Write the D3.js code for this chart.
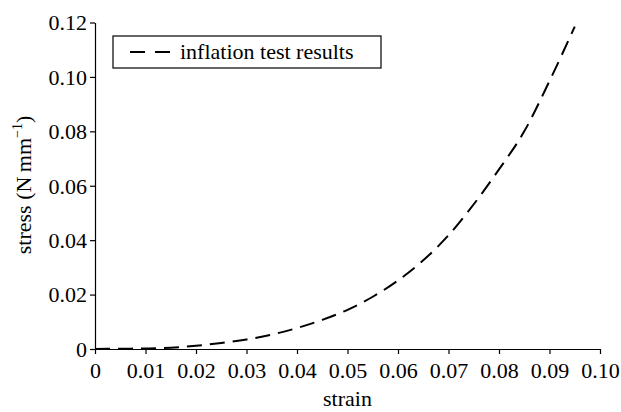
<!DOCTYPE html>
<html>
<head>
<meta charset="utf-8">
<script src="https://cdn.jsdelivr.net/npm/d3@7"></script>
<style>
  body { margin: 0; background: #fff; }
</style>
</head>
<body>
<div id="chart"></div>
<script>
// strain / stress values
const strain = [0, 0.005, 0.01, 0.015, 0.02, 0.025, 0.03, 0.035, 0.04, 0.045, 0.05,
  0.055, 0.06, 0.065, 0.07, 0.075, 0.08, 0.085, 0.09, 0.095];
const stress = [0, 0.0001, 0.0002, 0.0005, 0.0012, 0.0022, 0.0035, 0.0053, 0.0077, 0.0107, 0.0144,
  0.0192, 0.0252, 0.0326, 0.0418, 0.0532, 0.066, 0.080, 0.0985, 0.1185];
const xTicks = [0, 0.01, 0.02, 0.03, 0.04, 0.05, 0.06, 0.07, 0.08, 0.09, 0.10];
const yTicks = [0, 0.02, 0.04, 0.06, 0.08, 0.10, 0.12];
const seriesName = 'inflation test results';

const FONT = '"Liberation Serif", "Times New Roman", Times, serif';
const FS = 22;

function drawChart() {
  const w = 621;
  const h = 412;

  const svg = d3.select('#chart').append('svg').attr('width', w).attr('height', h)
    .attr('font-family', FONT);

  const x = d3.scaleLinear().domain([0, 0.1]).range([95, 600]);
  const y = d3.scaleLinear().domain([0, 0.12]).range([349, 22.5]);

  const fmt = (d) => (d === 0 ? '0' : d3.format('.2f')(d));

  const xAxis = svg.append('g')
    .attr('transform', `translate(0,${y(0)})`)
    .call(d3.axisBottom(x).tickValues(xTicks).tickFormat(fmt).tickSize(5).tickSizeOuter(0));
  xAxis.attr('font-family', FONT).attr('font-size', FS);
  xAxis.selectAll('text').attr('dy', 0).attr('y', 29).attr('fill', '#000');

  const yAxis = svg.append('g')
    .attr('transform', `translate(${x(0)},0)`)
    .call(d3.axisLeft(y).tickValues(yTicks).tickFormat(fmt).tickSize(5).tickSizeOuter(0));
  yAxis.attr('font-family', FONT).attr('font-size', FS);
  yAxis.selectAll('text').attr('x', -8).attr('dy', '0.33em').attr('fill', '#000');

  svg.selectAll('.domain, .tick line').attr('stroke', '#000').attr('stroke-width', 1.2);

  // curve
  const line = d3.line()
    .x((d, i) => x(strain[i]))
    .y((d) => y(d))
    .curve(d3.curveMonotoneX);

  svg.append('path')
    .datum(stress)
    .attr('d', line)
    .attr('fill', 'none')
    .attr('stroke', '#000')
    .attr('stroke-width', 2)
    .attr('stroke-dasharray', '15,8');

  // legend
  const lg = svg.append('g').attr('transform', 'translate(113,36)');
  lg.append('rect').attr('width', 268).attr('height', 32)
    .attr('fill', '#fff').attr('stroke', '#000').attr('stroke-width', 1.2);
  lg.append('line').attr('x1', 17).attr('x2', 57).attr('y1', 16).attr('y2', 16)
    .attr('stroke', '#000').attr('stroke-width', 2).attr('stroke-dasharray', '15,10');
  lg.append('text').attr('x', 67).attr('y', 23).attr('font-size', FS).text(seriesName);

  // axis titles
  svg.append('text')
    .attr('x', (x(0) + x(0.1)) / 2).attr('y', 406)
    .attr('text-anchor', 'middle').attr('font-size', FS).text('strain');

  const yl = svg.append('text')
    .attr('transform', 'translate(31,185) rotate(-90)')
    .attr('text-anchor', 'middle').attr('font-size', FS);
  yl.append('tspan').text('stress (N\u2009mm');
  yl.append('tspan').attr('font-size', 14).attr('dy', -9).text('\u22121');
  yl.append('tspan').attr('dy', 9).text(')');
}

window.onload = function () {
  drawChart();
};
</script>
</body>
</html>
